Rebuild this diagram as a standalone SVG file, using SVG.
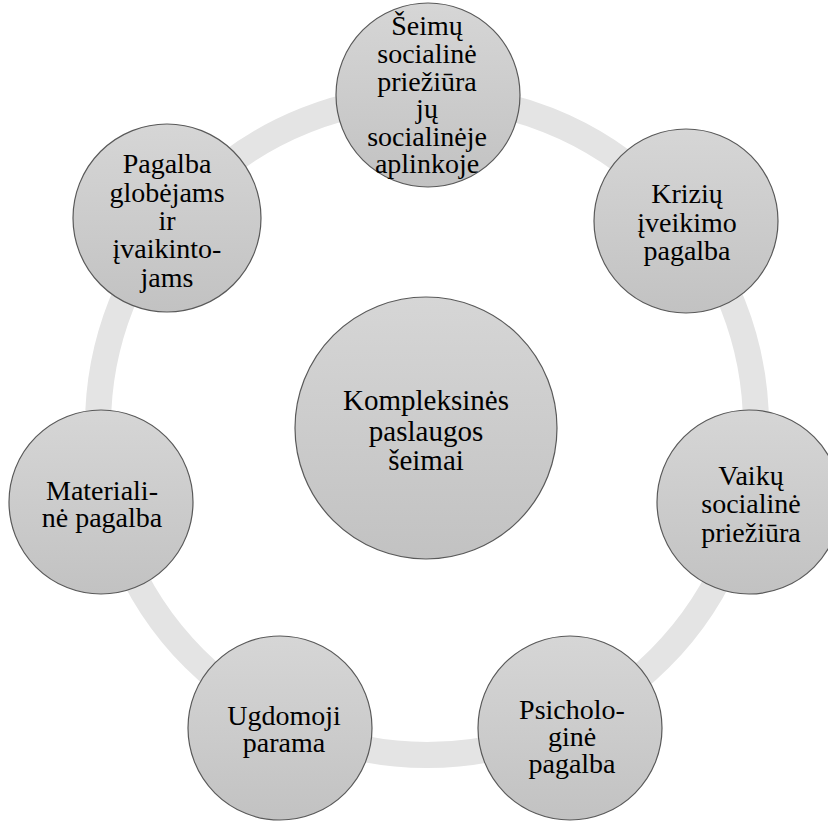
<svg xmlns="http://www.w3.org/2000/svg" width="828" height="821" viewBox="0 0 828 821">
<defs>
<linearGradient id="g" x1="0" y1="0" x2="0" y2="1">
<stop offset="0" stop-color="#d6d6d6"/>
<stop offset="1" stop-color="#c2c2c2"/>
</linearGradient>
<style>
.n{fill:url(#g);stroke:#595959;stroke-width:1.2}
text{font-family:'Liberation Serif','Times New Roman','DejaVu Serif',serif;font-size:28px;fill:#000;text-anchor:middle}
.c{font-size:29px}
.ring{fill:none;stroke:#e4e4e4;stroke-width:26}
</style>
</defs>
<rect width="828" height="821" fill="#fff"/>
<g id="connectors">
<circle class="ring" cx="427" cy="426" r="329"/>
</g>
<g id="center">
<circle class="n" cx="426" cy="428" r="131"/>
<text class="c"><tspan x="426" y="410">Kompleksinės</tspan><tspan x="426" y="441">paslaugos</tspan><tspan x="426" y="470">šeimai</tspan></text>
</g>
<g id="n1">
<circle class="n" cx="428" cy="95" r="92"/>
<text><tspan x="427" y="35">Šeimų</tspan><tspan x="427" y="63">socialinė</tspan><tspan x="427" y="91">priežiūra</tspan><tspan x="427" y="118">jų</tspan><tspan x="427" y="146">socialinėje</tspan><tspan x="427" y="173">aplinkoje</tspan></text>
</g>
<g id="n2">
<circle class="n" cx="686" cy="221" r="92"/>
<text><tspan x="687" y="203">Krizių</tspan><tspan x="687" y="232">įveikimo</tspan><tspan x="687" y="260">pagalba</tspan></text>
</g>
<g id="n3">
<circle class="n" cx="749" cy="502" r="92"/>
<text><tspan x="751" y="485">Vaikų</tspan><tspan x="751" y="513">socialinė</tspan><tspan x="751" y="542">priežiūra</tspan></text>
</g>
<g id="n4">
<circle class="n" cx="570" cy="728" r="92"/>
<text><tspan x="572" y="719">Psicholo-</tspan><tspan x="572" y="746">ginė</tspan><tspan x="572" y="773">pagalba</tspan></text>
</g>
<g id="n5">
<circle class="n" cx="280" cy="728" r="92"/>
<text><tspan x="284" y="725">Ugdomoji</tspan><tspan x="284" y="752">parama</tspan></text>
</g>
<g id="n6">
<circle class="n" cx="101" cy="502" r="92"/>
<text><tspan x="102" y="500">Materiali-</tspan><tspan x="102" y="527">nė pagalba</tspan></text>
</g>
<g id="n7">
<circle class="n" cx="167" cy="218" r="94"/>
<text><tspan x="167" y="173">Pagalba</tspan><tspan x="167" y="202">globėjams</tspan><tspan x="167" y="230">ir</tspan><tspan x="167" y="258">įvaikinto-</tspan><tspan x="167" y="287">jams</tspan></text>
</g>
</svg>
